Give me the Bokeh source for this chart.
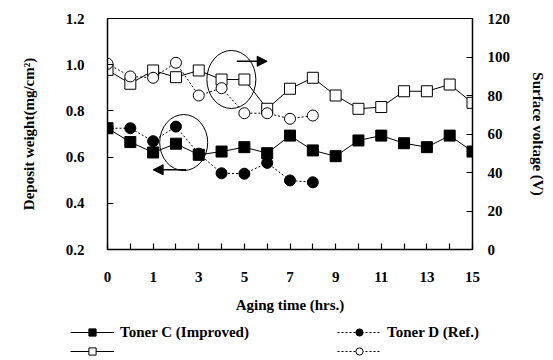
from bokeh.plotting import figure
from bokeh.layouts import column
from bokeh.models import (Range1d, LinearAxis, FixedTicker, Legend, LegendItem,
                          Arrow, NormalHead)
from bokeh.embed import file_html
from bokeh.resources import INLINE

# ---------------- data ----------------
hours = [0, 0.5, 1, 2, 3, 4, 5, 6, 7, 8, 9, 10, 11, 12, 13, 14, 15]
x_tick_labels = ["0", "", "1", "", "3", "", "5", "", "7", "", "9", "", "11", "", "13", "", "15"]

tonerC_weight = [0.725, 0.665, 0.62, 0.658, 0.61, 0.624, 0.643, 0.617, 0.693,
                 0.629, 0.604, 0.672, 0.693, 0.66, 0.643, 0.693, 0.624]
tonerC_voltage = [93.3, 86.1, 93.0, 89.5, 93.0, 88.3, 88.3, 73.1, 83.5,
                  89.2, 80.0, 73.1, 74.0, 82.2, 82.2, 85.7, 76.2]
tonerD_weight = [0.725, 0.725, 0.669, 0.732, 0.615, 0.53, 0.528, 0.575, 0.499, 0.491]
tonerD_voltage = [96.5, 89.9, 89.2, 97.0, 80.0, 83.8, 70.8, 70.8, 67.9, 69.6]

left_ticks = [0.2, 0.4, 0.6, 0.8, 1.0, 1.2]
left_tick_labels = ["0.2", "0.4", "0.6", "0.8", "1.0", "1.2"]
right_ticks = [0, 20, 40, 60, 80, 100, 120]

# annotation ellipses / arrows (data coords: x = category index, y = left axis)
ell_x = [5.43, 3.34]
ell_y = [0.936, 0.663]
ell_w = [49, 48]
ell_h = [58, 56]

posC = list(range(len(hours)))
posD = posC[:len(tonerD_weight)]

FONT = "Liberation Serif"

p = figure(width=553, height=322, output_backend="svg", toolbar_location=None,
           x_range=Range1d(0, len(hours) - 1), y_range=Range1d(0.2, 1.2),
           min_border_left=107, min_border_right=81, min_border_top=18,
           min_border_bottom=73)
p.frame_align = False
p.extra_y_ranges = {"v": Range1d(0, 120)}
p.xgrid.visible = False
p.ygrid.visible = False
p.outline_line_color = "black"
p.outline_line_width = 1
p.background_fill_color = "white"
p.border_fill_color = "white"

# x axis
xa = p.xaxis[0]
xa.ticker = FixedTicker(ticks=posC)
xa.major_label_overrides = {i: lab for i, lab in zip(posC, x_tick_labels)}
xa.axis_label = "Aging time (hrs.)"

# left axis
ya = p.yaxis[0]
ya.ticker = FixedTicker(ticks=left_ticks)
ya.major_label_overrides = {t: lab for t, lab in zip(left_ticks, left_tick_labels)}
ya.axis_label = "Deposit weight(mg/cm\u00b2)"

# right axis
ra = LinearAxis(y_range_name="v", ticker=FixedTicker(ticks=right_ticks),
                axis_label="Surface voltage (V)")
p.add_layout(ra, "right")

for ax in (xa, ya, ra):
    ax.major_tick_in = 6
    ax.major_tick_out = 0
    ax.minor_tick_line_color = None
    ax.axis_line_color = "black"
    ax.axis_line_width = 1.5
    ax.major_tick_line_color = "black"
    ax.major_tick_line_width = 1.2
    ax.major_label_text_font = FONT
    ax.major_label_text_font_style = "bold"
    ax.major_label_text_font_size = "15px"
    ax.major_label_text_color = "black"
    ax.axis_label_text_font = FONT
    ax.axis_label_text_font_style = "bold"
    ax.axis_label_text_font_size = "15px"
    ax.axis_label_text_color = "black"

xa.major_label_standoff = 22
xa.axis_label_standoff = 12
ya.major_label_standoff = 23
ya.axis_label_standoff = 26
ra.major_label_standoff = 15
ra.axis_label_standoff = 17

# ---------------- series ----------------
cv_line = p.line(posC, tonerC_voltage, y_range_name="v", line_color="black", line_width=1)
cv_sq = p.scatter(posC, tonerC_voltage, y_range_name="v", marker="square", size=11,
                  fill_color="white", line_color="black", line_width=1)
cw_line = p.line(posC, tonerC_weight, line_color="black", line_width=1)
cw_sq = p.scatter(posC, tonerC_weight, marker="square", size=11,
                  fill_color="black", line_color="black")

dv_line = p.line(posD, tonerD_voltage, y_range_name="v", line_color="black",
                 line_width=1, line_dash="2 2")
dv_c = p.scatter(posD, tonerD_voltage, y_range_name="v", marker="circle", size=11,
                 fill_color="white", line_color="black", line_width=1)
dw_line = p.line(posD, tonerD_weight, line_color="black", line_width=1, line_dash="2 2")
dw_c = p.scatter(posD, tonerD_weight, marker="circle", size=11,
                 fill_color="black", line_color="black")

# ---------------- annotations ----------------
p.ellipse(x=ell_x, y=ell_y, width=ell_w, height=ell_h, width_units="screen",
          height_units="screen", fill_color=None, line_color="black", line_width=1)
p.add_layout(Arrow(end=NormalHead(size=10, fill_color="black", line_color="black"),
                   x_start=5.67, y_start=1.015, x_end=7.0, y_end=1.015,
                   line_width=1.5, line_color="black"))
p.add_layout(Arrow(end=NormalHead(size=10, fill_color="black", line_color="black"),
                   x_start=3.45, y_start=0.545, x_end=2.0, y_end=0.545,
                   line_width=1.5, line_color="black"))

# ---------------- legend strip ----------------
# same series drawn again, but the ranges keep them out of view: only the legend shows
lf = figure(width=553, height=38, output_backend="svg", toolbar_location=None,
            x_range=Range1d(100, 101), y_range=Range1d(500, 501), min_border=0)
lf.frame_align = False
lf.axis.visible = False
lf.xgrid.visible = False
lf.ygrid.visible = False
lf.outline_line_color = None
lf.background_fill_color = "white"
lf.border_fill_color = "white"

l_cw_line = lf.line(posC, tonerC_weight, line_color="black", line_width=1)
l_cw_sq = lf.scatter(posC, tonerC_weight, marker="square", size=11,
                     fill_color="black", line_color="black")
l_cv_line = lf.line(posC, tonerC_voltage, line_color="black", line_width=1)
l_cv_sq = lf.scatter(posC, tonerC_voltage, marker="square", size=11,
                     fill_color="white", line_color="black")
l_dw_line = lf.line(posD, tonerD_weight, line_color="black", line_width=1, line_dash="2 2")
l_dw_c = lf.scatter(posD, tonerD_weight, marker="circle", size=11,
                    fill_color="black", line_color="black")
l_dv_line = lf.line(posD, tonerD_voltage, line_color="black", line_width=1, line_dash="2 2")
l_dv_c = lf.scatter(posD, tonerD_voltage, marker="circle", size=11,
                    fill_color="white", line_color="black")


def make_legend(items, loc):
    lg = Legend(items=items, location=loc, orientation="vertical",
                glyph_width=44, glyph_height=18, label_height=18, label_standoff=6,
                spacing=1, padding=0, margin=0, border_line_color=None,
                background_fill_alpha=0, label_text_font=FONT,
                label_text_font_style="bold", label_text_font_size="15px",
                label_text_color="black")
    lf.add_layout(lg, "center")
    return lg


make_legend([LegendItem(label="Toner C (Improved)", renderers=[l_cw_line, l_cw_sq]),
             LegendItem(label=" ", renderers=[l_cv_line, l_cv_sq])], (70, 0))
make_legend([LegendItem(label="Toner D (Ref.)", renderers=[l_dw_line, l_dw_c]),
             LegendItem(label=" ", renderers=[l_dv_line, l_dv_c])], (337, 0))

layout = column(p, lf, spacing=0)
open("out.html", "w").write(file_html(layout, INLINE))
